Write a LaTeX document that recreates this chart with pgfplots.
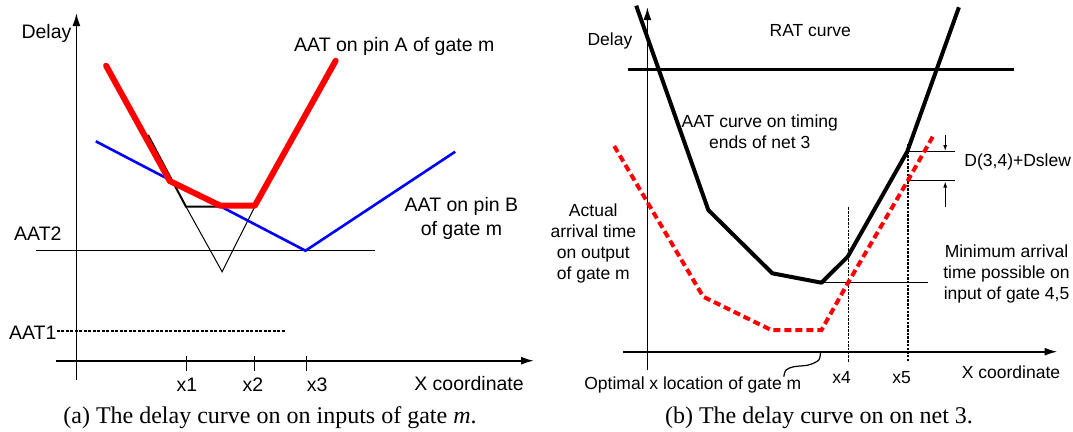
\documentclass[border=0pt]{standalone}
\usepackage{fontspec}
\setmainfont{Liberation Serif}
\newfontfamily\arial{Liberation Sans}
\usepackage{pgfplots}
\pgfplotsset{compat=1.18}
\usetikzlibrary{arrows.meta}
\tikzset{
  lbl/.style={font=\arial\fontsize{19.5}{24}\selectfont,inner sep=0pt,align=center},
  lblb/.style={font=\arial\fontsize{17.5}{21}\selectfont,inner sep=0pt,align=center},
  captxt/.style={font=\fontsize{24}{28}\selectfont,inner sep=0pt,anchor=base},
  axarrow/.style={black,line width=1.8pt,-{Latex[length=13pt,width=8pt]}},
  thinline/.style={black,line width=1pt},
}
\begin{document}
\begin{tikzpicture}
\path[use as bounding box] (0,0) rectangle (1073pt,431pt);
\begin{axis}[at={(0,0)},anchor=south west,width=1073pt,height=431pt,scale only axis,
  xmin=0,xmax=1073,ymin=0,ymax=431,y dir=reverse,hide axis,clip=false]
% ---------- panel (a) ----------
\addplot[axarrow] coordinates {(76.4,380) (76.4,13)};
\addplot[axarrow] coordinates {(55.8,360.7) (534,360.7)};
\addplot[thinline] coordinates {(186,356) (186,370.7)};
\addplot[thinline] coordinates {(254.8,356) (254.8,370.7)};
\addplot[thinline] coordinates {(306.5,356) (306.5,370.7)};
\addplot[thinline] coordinates {(36.2,250.7) (374.7,250.7)};
\addplot[black,line width=1.2pt,dash pattern=on 3pt off 1.5pt] coordinates {(56.8,331) (285.8,331)};
\addplot[thinline] coordinates {(186,206.7) (222.1,271.7) (254.8,206.7)};
\addplot[blue,line width=2.6pt] coordinates {(95.8,141.3) (305.5,250.7) (455.2,151.7)};
\addplot[black,line width=2pt] coordinates {(148,135) (186,206.7) (220.3,206.7)};
\addplot[red,line width=6pt,line cap=round,line join=round] coordinates {(106.1,65.7) (169.7,181) (220.3,205.7) (254.8,205.7) (335.7,60.7)};
\node[lbl] at (axis cs:46.5,33) {Delay};
\node[lbl] at (axis cs:394.3,46.7) {AAT on pin A of gate m};
\node[lbl] at (axis cs:461.4,218.7) {AAT on pin B\\of gate m};
\node[lbl] at (axis cs:37.9,233.3) {AAT2};
\node[lbl] at (axis cs:32.7,332.7) {AAT1};
\node[lbl] at (axis cs:187,384.5) {x1};
\node[lbl] at (axis cs:253,384.5) {x2};
\node[lbl] at (axis cs:317.1,384.5) {x3};
\node[lbl] at (axis cs:469,383.5) {X coordinate};
\node[captxt] at (axis cs:270,423) {(a) The delay curve on on inputs of gate \textit{m}.};
% ---------- panel (b) ----------
\addplot[axarrow] coordinates {(647.4,370) (647.4,7)};
\addplot[axarrow] coordinates {(623.3,351.7) (1057.5,351.7)};
\addplot[black,line width=3pt] coordinates {(627.7,69.3) (1013.6,69.3)};
\addplot[thinline] coordinates {(821.5,282.7) (927.6,282.7)};
\addplot[black,line width=1.2pt,dash pattern=on 2.5pt off 1.2pt] coordinates {(848.8,207.3) (848.8,361.7)};
\addplot[black,line width=1.2pt,dash pattern=on 2.5pt off 1.2pt] coordinates {(907.9,144) (907.9,360.7)};
\addplot[thinline] coordinates {(907.2,151.7) (955.4,151.7)};
\addplot[thinline] coordinates {(907.9,180.7) (955.4,180.7)};
\addplot[black,line width=0.9pt,-{Latex[length=6pt,width=4pt]}] coordinates {(945.2,135) (945.2,151)};
\addplot[black,line width=0.9pt,-{Latex[length=6pt,width=4pt]}] coordinates {(945.2,207.3) (945.2,181.5)};
\addplot[black,line width=1.2pt,smooth] coordinates {(820.5,351.7) (818.8,360) (808.5,365) (793.8,366.7) (786,370) (783.8,376.7)};
\addplot[red,line width=4pt,dash pattern=on 7pt off 4pt] coordinates {(614.2,146) (703.2,296.7) (771.2,330) (821.5,330) (847.7,283.3) (907.2,181.7) (932.7,136.7)};
\addplot[black,line width=4pt,line join=round] coordinates {(636.2,5.7) (708.3,210) (772.3,273.3) (821.5,282.7) (847.7,256.7) (907.2,151.7) (958.9,7.3)};
\node[lblb] at (axis cs:609.9,40.7) {Delay};
\node[lblb] at (axis cs:810.3,31) {RAT curve};
\node[lblb] at (axis cs:759.8,132.2) {AAT curve on timing\\ends of net 3};
\node[lblb] at (axis cs:593.3,243.7) {Actual\\arrival time\\on output\\of gate m};
\node[lblb] at (axis cs:1006.5,274.3) {Minimum arrival\\time possible on\\input of gate 4,5};
\node[lblb] at (axis cs:1017.7,162.3) {D(3,4)+Dslew};
\node[lblb] at (axis cs:841.7,377.7) {x4};
\node[lblb] at (axis cs:901.7,377.7) {x5};
\node[lblb] at (axis cs:1011,372.7) {X coordinate};
\node[lblb] at (axis cs:692.8,385) {Optimal x location of gate m};
\node[captxt] at (axis cs:819,423.5) {(b) The delay curve on on net 3.};
\end{axis}
\end{tikzpicture}
\end{document}
